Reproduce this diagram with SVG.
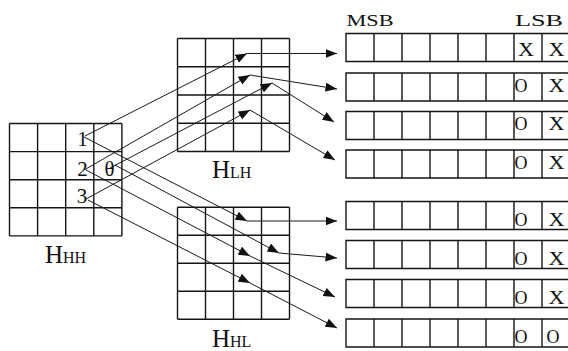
<svg xmlns="http://www.w3.org/2000/svg" width="568" height="351" viewBox="0 0 568 351">
  <style>
    .grid { fill: none; stroke: #151515; stroke-width: 1.4; }
    .reg { fill: none; stroke: #151515; stroke-width: 1.4; }
    .conn { fill: none; stroke: #1a1a1a; stroke-width: 1; marker-end: url(#head); }
    text { font-family: "Liberation Serif", "Times New Roman", serif; fill: #111; }
    .big { font-size: 25px; }
    .sm { font-size: 16px; }
    .num { font-size: 21px; text-anchor: middle; }
    .bit { font-size: 19px; text-anchor: middle; }
    .hdr { font-size: 17px; }
  </style>
  <defs>
    <marker id="head" markerUnits="userSpaceOnUse" markerWidth="12" markerHeight="10" refX="11.5" refY="4.5" orient="auto">
      <path d="M0,0 L11.5,4.5 L0,9 z" fill="#111"/>
    </marker>
  </defs>

  <!-- high-high subband block -->
  <g id="hhh">
    <path class="grid" d="M9.5,123.5H121.9M9.5,151.6H121.9M9.5,179.7H121.9M9.5,207.8H121.9M9.5,235.9H121.9M9.5,123.5V235.9M37.6,123.5V235.9M65.7,123.5V235.9M93.8,123.5V235.9M121.9,123.5V235.9"/>
    <text class="num" x="82.5" y="145.5">1</text>
    <text class="num" x="82.5" y="176">2</text>
    <text class="num" x="82" y="202.5">3</text>
    <text class="num" x="109.5" y="176">θ</text>
    <text x="45" y="263.3"><tspan class="big">H</tspan><tspan class="sm">HH</tspan></text>
  </g>

  <!-- low-high subband block -->
  <g id="hlh">
    <path class="grid" d="M177.5,38.5H289.5M177.5,66.8H289.5M177.5,95H289.5M177.5,123.3H289.5M177.5,151.5H289.5M177.5,38.5V151.5M205.5,38.5V151.5M233.5,38.5V151.5M261.5,38.5V151.5M289.5,38.5V151.5"/>
    <text x="212" y="178.3"><tspan class="big">H</tspan><tspan class="sm">LH</tspan></text>
  </g>

  <!-- high-low subband block -->
  <g id="hhl">
    <path class="grid" d="M177.5,207.3H289.5M177.5,235.3H289.5M177.5,263.3H289.5M177.5,291.3H289.5M177.5,319.3H289.5M177.5,207.3V319.3M205.5,207.3V319.3M233.5,207.3V319.3M261.5,207.3V319.3M289.5,207.3V319.3"/>
    <text x="212" y="346.7"><tspan class="big">H</tspan><tspan class="sm">HL</tspan></text>
  </g>

  <!-- bit-plane headers -->
  <g id="headers">
    <text class="hdr" x="346.5" y="26" textLength="47" lengthAdjust="spacingAndGlyphs">MSB</text>
    <text class="hdr" x="515" y="26" textLength="48" lengthAdjust="spacingAndGlyphs">LSB</text>
  </g>

  <!-- 8-bit registers -->
  <g id="reg1">
    <path class="reg" d="M346,33.5H570V61.5H346ZM374,33.5V61.5M402,33.5V61.5M430,33.5V61.5M458,33.5V61.5M486,33.5V61.5M514,33.5V61.5M542,33.5V61.5"/>
    <text class="bit" x="526" y="55.5" textLength="16" lengthAdjust="spacingAndGlyphs">X</text>
    <text class="bit" x="556.5" y="55.5" textLength="16" lengthAdjust="spacingAndGlyphs">X</text>
  </g>
  <g id="reg2">
    <path class="reg" d="M346,73H570V101H346ZM374,73V101M402,73V101M430,73V101M458,73V101M486,73V101M514,73V101M542,73V101"/>
    <text class="bit" x="521" y="92" textLength="13" lengthAdjust="spacingAndGlyphs">O</text>
    <text class="bit" x="556.5" y="92" textLength="16" lengthAdjust="spacingAndGlyphs">X</text>
  </g>
  <g id="reg3">
    <path class="reg" d="M346,111.5H570V139.5H346ZM374,111.5V139.5M402,111.5V139.5M430,111.5V139.5M458,111.5V139.5M486,111.5V139.5M514,111.5V139.5M542,111.5V139.5"/>
    <text class="bit" x="521" y="130" textLength="13" lengthAdjust="spacingAndGlyphs">O</text>
    <text class="bit" x="556.5" y="130" textLength="16" lengthAdjust="spacingAndGlyphs">X</text>
  </g>
  <g id="reg4">
    <path class="reg" d="M346,150H570V178H346ZM374,150V178M402,150V178M430,150V178M458,150V178M486,150V178M514,150V178M542,150V178"/>
    <text class="bit" x="521" y="168.5" textLength="13" lengthAdjust="spacingAndGlyphs">O</text>
    <text class="bit" x="556.5" y="168.5" textLength="16" lengthAdjust="spacingAndGlyphs">X</text>
  </g>
  <g id="reg5">
    <path class="reg" d="M346,201.5H570V229.5H346ZM374,201.5V229.5M402,201.5V229.5M430,201.5V229.5M458,201.5V229.5M486,201.5V229.5M514,201.5V229.5M542,201.5V229.5"/>
    <text class="bit" x="521" y="226" textLength="13" lengthAdjust="spacingAndGlyphs">O</text>
    <text class="bit" x="556.5" y="226" textLength="16" lengthAdjust="spacingAndGlyphs">X</text>
  </g>
  <g id="reg6">
    <path class="reg" d="M346,240.5H570V268.5H346ZM374,240.5V268.5M402,240.5V268.5M430,240.5V268.5M458,240.5V268.5M486,240.5V268.5M514,240.5V268.5M542,240.5V268.5"/>
    <text class="bit" x="521" y="264.5" textLength="13" lengthAdjust="spacingAndGlyphs">O</text>
    <text class="bit" x="556.5" y="264.5" textLength="16" lengthAdjust="spacingAndGlyphs">X</text>
  </g>
  <g id="reg7">
    <path class="reg" d="M346,279.5H570V307.5H346ZM374,279.5V307.5M402,279.5V307.5M430,279.5V307.5M458,279.5V307.5M486,279.5V307.5M514,279.5V307.5M542,279.5V307.5"/>
    <text class="bit" x="521" y="303.5" textLength="13" lengthAdjust="spacingAndGlyphs">O</text>
    <text class="bit" x="556.5" y="303.5" textLength="16" lengthAdjust="spacingAndGlyphs">X</text>
  </g>
  <g id="reg8">
    <path class="reg" d="M346,319H570V347H346ZM374,319V347M402,319V347M430,319V347M458,319V347M486,319V347M514,319V347M542,319V347"/>
    <text class="bit" x="521" y="343" textLength="13" lengthAdjust="spacingAndGlyphs">O</text>
    <text class="bit" x="553" y="343" textLength="13" lengthAdjust="spacingAndGlyphs">O</text>
  </g>

  <!-- connectors: pixels to subband positions, then to registers -->
  <g id="connectors">
    <line class="conn" x1="85" y1="136" x2="247" y2="53.5"/>
    <line class="conn" x1="84" y1="170" x2="250" y2="75"/>
    <line class="conn" x1="110" y1="168" x2="272" y2="83"/>
    <line class="conn" x1="86" y1="199" x2="250" y2="110"/>

    <line class="conn" x1="84" y1="137" x2="247" y2="221"/>
    <line class="conn" x1="115" y1="165" x2="279" y2="253"/>
    <line class="conn" x1="86" y1="170" x2="250" y2="256"/>
    <line class="conn" x1="88" y1="200" x2="250" y2="283"/>

    <line class="conn" x1="247" y1="53.5" x2="337" y2="53.5"/>
    <line class="conn" x1="250" y1="75" x2="337" y2="89"/>
    <line class="conn" x1="272" y1="83" x2="334" y2="122"/>
    <line class="conn" x1="250" y1="110" x2="335" y2="160"/>

    <line class="conn" x1="247" y1="221" x2="337" y2="221"/>
    <line class="conn" x1="279" y1="253" x2="337" y2="258"/>
    <line class="conn" x1="250" y1="256" x2="335" y2="297"/>
    <line class="conn" x1="250" y1="283" x2="337" y2="328"/>
  </g>
</svg>
